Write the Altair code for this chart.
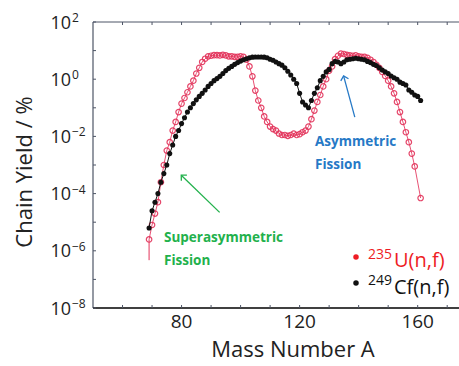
import altair as alt
import pandas as pd

# ---- data ----
mass_u = list(range(69, 160)) + [161]
yield_u = [
    2.5e-6, 8e-6, 2e-5, 5e-5, 2.5e-4, 1e-3, 3.2e-3, 6.3e-3, 0.016, 0.032,      # 69-78
    0.071, 0.14, 0.22, 0.35, 0.56, 0.89, 1.58, 2.5, 4.0, 5.2,                  # 79-88
    6.3, 6.6, 6.9, 6.9, 6.8, 7.1, 6.8, 6.3, 6.3, 6.0,                          # 89-98
    6.0, 6.3, 6.0, 4.8, 2.8, 1.26, 0.4, 0.18, 0.1, 0.05,                       # 99-108
    0.032, 0.022, 0.018, 0.016, 0.0126, 0.0112, 0.0112, 0.0105, 0.0112, 0.0126,  # 109-118
    0.0112, 0.012, 0.014, 0.016, 0.022, 0.04, 0.08, 0.16, 0.28, 0.56,          # 119-128
    1.0, 2.0, 2.8, 5.0, 6.6, 7.9, 7.6, 7.1, 6.8, 6.6,                          # 129-138
    6.8, 6.3, 6.0, 6.0, 5.6, 4.8, 4.0, 3.2, 2.5, 1.8,                          # 139-148
    1.3, 0.89, 0.56, 0.32, 0.16, 0.071, 0.032, 0.014, 0.0063, 0.0025,          # 149-158
    8.9e-4, 7e-5,                                                              # 159, 161
]
mass_cf = list(range(69, 162))
yield_cf = [
    6.3e-6, 2.5e-5, 5e-5, 1e-4, 2.5e-4, 5e-4, 1e-3, 2.5e-3, 5e-3, 0.01,        # 69-78
    0.016, 0.028, 0.045, 0.071, 0.1, 0.14, 0.19, 0.25, 0.32, 0.42,             # 79-88
    0.56, 0.71, 0.89, 1.05, 1.26, 1.58, 2.0, 2.4, 2.8, 3.3,                    # 89-98
    3.8, 4.3, 4.8, 5.2, 5.6, 5.9, 6.0, 6.0, 6.0, 5.9,                          # 99-108
    5.6, 5.0, 4.6, 4.0, 3.5, 3.1, 2.5, 1.9, 1.4, 1.0,                          # 109-118
    0.71, 0.32, 0.16, 0.126, 0.1, 0.18, 0.32, 0.5, 0.89, 1.26,                 # 119-128
    1.8, 2.2, 3.5, 4.2, 4.0, 3.5, 4.0, 4.8, 5.0, 5.2,                          # 129-138
    5.4, 5.2, 5.0, 4.8, 4.2, 3.8, 3.3, 3.0, 2.5, 2.1,                          # 139-148
    1.8, 1.58, 1.3, 1.12, 1.0, 0.79, 0.71, 0.63, 0.42, 0.35,                   # 149-158
    0.28, 0.25, 0.18,                                                          # 159-161
]
# error bar on the lightest U-235 point
err_mass = [69]
err_low = [4.7e-7]
err_high = [2.5e-6]

x_label_values = [80, 120, 160]
x_minor_values = [60, 70, 80, 90, 100, 110, 120, 130, 140, 150, 160, 170]
y_decades = [1e-8, 1e-7, 1e-6, 1e-5, 1e-4, 1e-3, 1e-2, 1e-1, 1e0, 1e1, 1e2]
y_label_values = [1e2, 1e0, 1e-2, 1e-4, 1e-6, 1e-8]
y_label_exps = ["2", "0", "\u22122", "\u22124", "\u22126", "\u22128"]

# annotation arrows (tail -> head, data coordinates)
arrow_names = ["asym", "superasym"]
arrow_tail_a = [138.7, 92.9]
arrow_tail_y = [0.047, 2.2e-5]
arrow_head_a = [134.9, 79.9]
arrow_head_y = [1.3, 4.4e-4]
arrow_angle = [345, 314]
arrow_color = ["#2679c6", "#22b14c"]

RED = "#e3325a"
BLACK = "#111111"
FRAME = "#4d5566"
FONT = "Open Sans"
TXT = "#222222"
W, H = 366, 286

xs = alt.Scale(domain=[50, 174], nice=False, zero=False)
ys = alt.Scale(type="log", domain=[1e-8, 1e2], nice=False)

df_u = pd.DataFrame({"A": mass_u, "Y": yield_u})
df_cf = pd.DataFrame({"A": mass_cf, "Y": yield_cf})
df_err = pd.DataFrame({"A": err_mass, "lo": err_low, "hi": err_high})
df_xl = pd.DataFrame({"A": x_label_values, "t": [str(v) for v in x_label_values]})
df_xm = pd.DataFrame({"A": x_minor_values})
df_yd = pd.DataFrame({"Y": y_decades})
df_yl = pd.DataFrame({"Y": y_label_values, "e": y_label_exps})
df_ar = pd.DataFrame({"n": arrow_names, "a0": arrow_tail_a, "y0": arrow_tail_y,
                      "a1": arrow_head_a, "y1": arrow_head_y,
                      "ang": arrow_angle, "c": arrow_color})
df_one = pd.DataFrame({"k": [0]})

X = alt.X("A:Q", scale=xs, axis=None)
Y = alt.Y("Y:Q", scale=ys, axis=None)

u_line = alt.Chart(df_u).mark_line(color=RED, strokeWidth=1, opacity=0.85).encode(x=X, y=Y)
u_pts = alt.Chart(df_u).mark_point(shape="circle", filled=False, color=RED, size=30,
                                   strokeWidth=1.2, opacity=0.9).encode(x=X, y=Y)
u_err = alt.Chart(df_err).mark_rule(color=RED, strokeWidth=1).encode(
    x=X, y=alt.Y("lo:Q", scale=ys, axis=None), y2="hi:Q")
cf_line = alt.Chart(df_cf).mark_line(color=BLACK, strokeWidth=1).encode(x=X, y=Y)
cf_pts = alt.Chart(df_cf).mark_circle(color=BLACK, size=26, opacity=1).encode(x=X, y=Y)

# frame
frame_top = alt.Chart(df_one).mark_rule(color=FRAME, strokeWidth=1).encode(
    x=alt.value(0), x2=alt.value(W), y=alt.value(0))
frame_left = alt.Chart(df_one).mark_rule(color=FRAME, strokeWidth=1.2).encode(
    x=alt.value(0), y=alt.value(0), y2=alt.value(H))
frame_bottom = alt.Chart(df_one).mark_rule(color="#000000", strokeWidth=1.6).encode(
    x=alt.value(0), x2=alt.value(W), y=alt.value(H))

# inward ticks
tick_bottom = alt.Chart(df_xm).mark_rule(color=FRAME, strokeWidth=1).encode(
    x=X, y=alt.value(H), y2=alt.value(H - 3))
tick_top = alt.Chart(df_xm).mark_rule(color=FRAME, strokeWidth=1).encode(
    x=X, y=alt.value(0), y2=alt.value(3))
tick_left = alt.Chart(df_yd).mark_rule(color=FRAME, strokeWidth=1).encode(
    y=Y, x=alt.value(0), x2=alt.value(3))

# tick labels
x_labels = alt.Chart(df_xl).mark_text(font=FONT, fontSize=19, color=TXT, fontWeight="normal",
                                      baseline="middle", align="center").encode(
    x=X, y=alt.value(H + 14), text="t:N")
y_labels_10 = alt.Chart(df_yl).mark_text(font=FONT, fontSize=18, color=TXT, fontWeight="normal",
                                         baseline="middle", align="right", dy=1.5).encode(
    y=Y, x=alt.value(-22), text=alt.value("10"))
y_labels_exp = alt.Chart(df_yl).mark_text(font=FONT, fontSize=12, color=TXT, fontWeight="normal",
                                          baseline="middle", align="left", dy=-4).encode(
    y=Y, x=alt.value(-21), text="e:N")

# axis titles
x_title = alt.Chart(df_one).mark_text(font=FONT, fontSize=22, color=TXT, fontWeight="normal",
                                      baseline="middle", align="center").encode(
    x=alt.value(200), y=alt.value(H + 42), text=alt.value("Mass Number A"))
y_title = alt.Chart(df_one).mark_text(font=FONT, fontSize=22, color=TXT, fontWeight="normal",
                                      baseline="middle", align="center", angle=270).encode(
    x=alt.value(-68), y=alt.value(150), text=alt.value("Chain  Yield / %"))

# arrows
arrow_body = alt.Chart(df_ar).mark_rule(strokeWidth=1.3).encode(
    x=alt.X("a0:Q", scale=xs, axis=None), x2="a1:Q",
    y=alt.Y("y0:Q", scale=ys, axis=None), y2="y1:Q",
    color=alt.Color("c:N", scale=None))
arrow_head = alt.Chart(df_ar).mark_point(
    shape="M-0.7,0.7L0,0L0.7,0.7", filled=False, size=130, strokeWidth=1.3, opacity=1).encode(
    x=alt.X("a1:Q", scale=xs, axis=None), y=alt.Y("y1:Q", scale=ys, axis=None),
    angle=alt.Angle("ang:Q", scale=None), color=alt.Color("c:N", scale=None))

# annotation texts
def note(text, x, y, color):
    return alt.Chart(df_one).mark_text(font=FONT, fontSize=13.5, fontWeight="bold", color=color,
                                       baseline="middle", align="left").encode(
        x=alt.value(x), y=alt.value(y), text=alt.value(text))

notes = [
    note("Asymmetric", 222, 120, "#2679c6"),
    note("Fission", 222, 143, "#2679c6"),
    note("Superasymmetric", 71, 216, "#22b14c"),
    note("Fission", 71, 239, "#22b14c"),
]

# legend
leg_red_dot = alt.Chart(df_one).mark_circle(color="#ee1c24", size=30, opacity=1).encode(
    x=alt.value(263), y=alt.value(235))
leg_blk_dot = alt.Chart(df_one).mark_circle(color=BLACK, size=30, opacity=1).encode(
    x=alt.value(263), y=alt.value(261))

def legtxt(text, x, y, size, color):
    return alt.Chart(df_one).mark_text(font=FONT, fontSize=size, color=color, fontWeight="normal",
                                       baseline="alphabetic", align="left").encode(
        x=alt.value(x), y=alt.value(y), text=alt.value(text))

legend = [
    legtxt("235", 275, 237, 14, "#ee1c24"),
    legtxt("U(n,f)", 301, 245, 20, "#ee1c24"),
    legtxt("249", 275, 263, 14, BLACK),
    legtxt("Cf(n,f)", 301, 272, 20, BLACK),
]

chart = alt.layer(
    u_err, u_line, u_pts, cf_line, cf_pts,
    frame_top, frame_left, frame_bottom, tick_bottom, tick_top, tick_left,
    x_labels, y_labels_10, y_labels_exp, x_title, y_title,
    arrow_body, arrow_head, *notes,
    leg_red_dot, leg_blk_dot, *legend,
).properties(
    width=W, height=H,
    autosize=alt.AutoSizeParams(type="none"),
    padding={"left": 93, "top": 22, "right": 0, "bottom": 58},
    background="white",
).configure_view(stroke=None)

chart.save("out.html", embed_options={"renderer": "svg", "actions": False})
